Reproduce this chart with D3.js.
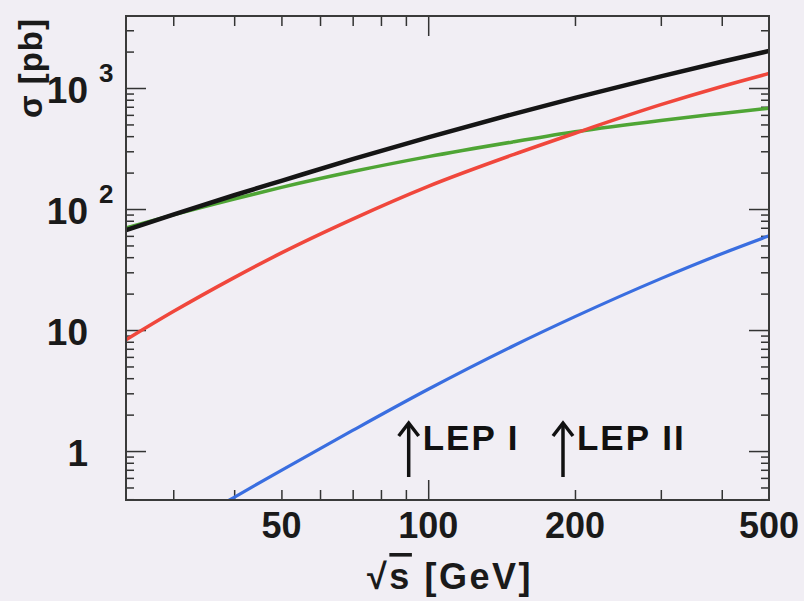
<!DOCTYPE html>
<html>
<head>
<meta charset="utf-8">
<script src="https://cdn.jsdelivr.net/npm/d3@7"></script>
<style>
    body { margin: 0; background: #f1eef4; }
    svg { display: block; font-family: "Liberation Sans", Arial, Helvetica, sans-serif; font-weight: bold; }
    .tick line { stroke: #333; stroke-width: 1.5; }
</style>
</head>
<body>
<div id="vis"></div>
<script>
// sqrt(s) in GeV, cross sections in pb
var energies = [24, 30, 40, 50, 70, 100, 150, 200, 300, 400, 500];
var sigmaBlack = [67, 90, 130, 171, 258, 391, 612, 829, 1248, 1648, 2023];
var sigmaGreen = [69.7, 89.5, 121, 151, 204, 271, 360, 435, 540, 617, 682];
var sigmaRed = [8.3, 14.2, 27.1, 43.4, 82.6, 154, 283, 423, 728, 1030, 1318];
var energiesBlue = [38, 40, 50, 70, 100, 150, 200, 300, 400, 500];
var sigmaBlue = [0.369, 0.415, 0.693, 1.48, 3.24, 7.45, 12.9, 26.6, 42.7, 60];

var xMajor = [100];
var xMinor = [30, 40, 50, 60, 70, 80, 90, 200, 300, 400];
var xLabels = [50, 100, 200, 500];
var yMajor = [1, 10, 100, 1000];
var yLabels = [{v: 1000, base: "10", exp: "3"}, {v: 100, base: "10", exp: "2"}, {v: 10, base: "10", exp: ""}, {v: 1, base: "1", exp: ""}];
var lepMarks = [{label: "LEP I", e: 91.2}, {label: "LEP II", e: 189}];

var width = 804, height = 601;
var margin = {top: 16, right: 35, bottom: 101, left: 126};

var svg = d3.select("#vis")
    .append("svg")
    .attr("width", width)
    .attr("height", height);

var x = d3.scaleLog()
    .domain([24, 500])
    .range([margin.left, width - margin.right]);

var y = d3.scaleLog()
    .domain([0.394, 3936])
    .range([height - margin.bottom, margin.top]);

var yMinor = [];
[0.1, 1, 10, 100, 1000].forEach(function(d) {
    for (var k = 2; k <= 9; k++) {
        var v = d * k;
        if (v > y.domain()[0] && v < y.domain()[1]) yMinor.push(v);
    }
});

svg.append("clipPath")
    .attr("id", "plot-clip")
    .append("rect")
    .attr("x", margin.left)
    .attr("y", margin.top)
    .attr("width", x.range()[1] - x.range()[0])
    .attr("height", y.range()[0] - y.range()[1]);

// ticks on all four sides, pointing inward
function tickAxis(axisFn, scale, values, size, pos) {
    var g = svg.append("g")
        .attr("transform", pos)
        .call(axisFn(scale).tickValues(values).tickSize(size).tickFormat(""));
    g.select(".domain").remove();
}
var bottomY = y.range()[0], topY = y.range()[1];
var leftX = x.range()[0], rightX = x.range()[1];

tickAxis(d3.axisBottom, x, xMinor, -10, "translate(0," + bottomY + ")");
tickAxis(d3.axisBottom, x, xMajor, -20, "translate(0," + bottomY + ")");
tickAxis(d3.axisTop, x, xMinor, -10, "translate(0," + topY + ")");
tickAxis(d3.axisTop, x, xMajor, -20, "translate(0," + topY + ")");
tickAxis(d3.axisLeft, y, yMinor, -8, "translate(" + leftX + ",0)");
tickAxis(d3.axisLeft, y, yMajor, -20, "translate(" + leftX + ",0)");
tickAxis(d3.axisRight, y, yMinor, -8, "translate(" + rightX + ",0)");
tickAxis(d3.axisRight, y, yMajor, -20, "translate(" + rightX + ",0)");

var line = d3.line()
    .x(function(d) { return x(d[0]); })
    .y(function(d) { return y(d[1]); })
    .curve(d3.curveMonotoneX);

var curves = [
    {e: energies, s: sigmaGreen, color: "#4fa535", w: 3.5},
    {e: energies, s: sigmaRed, color: "#f0473c", w: 3.5},
    {e: energiesBlue, s: sigmaBlue, color: "#3a6ee0", w: 3.2},
    {e: energies, s: sigmaBlack, color: "#151515", w: 4.5}
];

svg.append("g")
    .attr("clip-path", "url(#plot-clip)")
    .selectAll("path")
    .data(curves)
    .enter()
    .append("path")
    .attr("fill", "none")
    .attr("stroke", function(d) { return d.color; })
    .attr("stroke-width", function(d) { return d.w; })
    .attr("stroke-linejoin", "round")
    .attr("d", function(d) { return line(d3.zip(d.e, d.s)); });

// frame
svg.append("rect")
    .attr("x", leftX)
    .attr("y", topY)
    .attr("width", rightX - leftX)
    .attr("height", bottomY - topY)
    .attr("fill", "none")
    .attr("stroke", "#3a3a3a")
    .attr("stroke-width", 2);

// x labels
svg.append("g")
    .selectAll("text")
    .data(xLabels)
    .enter()
    .append("text")
    .attr("x", x)
    .attr("y", bottomY + 38)
    .attr("text-anchor", "middle")
    .attr("font-size", 36)
    .attr("fill", "#1a1a1a")
    .text(function(d) { return d; });

// y labels with superscripts
var yl = svg.append("g")
    .selectAll("g")
    .data(yLabels)
    .enter()
    .append("g");
yl.append("text")
    .attr("x", 88)
    .attr("y", function(d) { return y(d.v) + 15; })
    .attr("text-anchor", "end")
    .attr("font-size", 37)
    .attr("fill", "#1a1a1a")
    .text(function(d) { return d.base; });
yl.append("text")
    .attr("x", 99)
    .attr("y", function(d) { return y(d.v) - 6; })
    .attr("font-size", 26)
    .attr("fill", "#1a1a1a")
    .text(function(d) { return d.exp; });

// axis titles
var xt = svg.append("text")
    .attr("x", 450)
    .attr("y", 589)
    .attr("text-anchor", "middle")
    .attr("font-size", 36)
    .attr("letter-spacing", 2.5)
    .attr("fill", "#1a1a1a");
xt.append("tspan").text("√");
xt.append("tspan").attr("text-decoration", "overline").text("s");
xt.append("tspan").text(" [GeV]");

svg.append("text")
    .attr("transform", "translate(42,68) rotate(-90)")
    .attr("text-anchor", "middle")
    .attr("font-size", 33)
    .attr("letter-spacing", 1)
    .attr("fill", "#1a1a1a")
    .text("σ [pb]");

// LEP arrows
var lep = svg.append("g")
    .selectAll("g")
    .data(lepMarks)
    .enter()
    .append("g")
    .attr("transform", function(d) { return "translate(" + x(d.e) + ",0)"; });
lep.append("line")
    .attr("x1", 0).attr("x2", 0)
    .attr("y1", bottomY - 23).attr("y2", bottomY - 77)
    .attr("stroke", "#111")
    .attr("stroke-width", 3.5);
lep.append("path")
    .attr("d", "M-10," + (bottomY - 64) + "L0," + (bottomY - 77) + "L10," + (bottomY - 64))
    .attr("fill", "none")
    .attr("stroke", "#111")
    .attr("stroke-width", 3.5);
lep.append("text")
    .attr("x", 14)
    .attr("y", bottomY - 50)
    .attr("font-size", 35)
    .attr("letter-spacing", 2)
    .attr("fill", "#111")
    .text(function(d) { return d.label; });
</script>
</body>
</html>
